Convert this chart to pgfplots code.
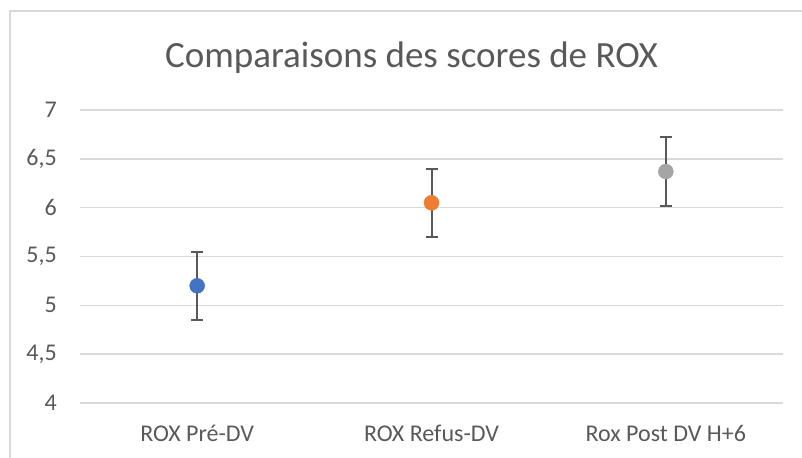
\documentclass[border=0pt]{standalone}
\usepackage{pgfplots}
\pgfplotsset{compat=1.18}
\usepackage{fontspec}
\setmainfont{Carlito}
\definecolor{txt}{HTML}{595959}
\definecolor{gridc}{HTML}{D9D9D9}
\definecolor{c1}{HTML}{4472C4}
\definecolor{c2}{HTML}{ED7D31}
\definecolor{c3}{HTML}{A5A5A5}
\definecolor{eb}{HTML}{595959}
\begin{document}
\begin{tikzpicture}[x=1bp,y=1bp]
\useasboundingbox (0,0) rectangle (802,458);
\draw[gridc, line width=1.5bp] (10,0) -- (10,447) -- (802,447);
\node[anchor=base, text=txt, inner sep=0pt, font=\fontsize{37bp}{44bp}\selectfont] at (411.5,390) {Comparaisons des scores de ROX};
\begin{axis}[
  at={(80bp,55bp)}, anchor=south west,
  scale only axis, width=703bp, height=293bp,
  xmin=-0.5, xmax=2.5, ymin=4, ymax=7,
  ytick={4,4.5,5,5.5,6,6.5,7},
  xtick={0,1,2},
  xticklabels={ROX Pré-DV, ROX Refus-DV, Rox Post DV H+6},
  /pgf/number format/assume math mode=true,
  /pgf/number format/use comma,
  /pgf/number format/1000 sep={},
  xmajorgrids=false, ymajorgrids=true,
  y grid style={draw=gridc, line width=1.5bp},
  axis line style={draw=none}, tick style={draw=none},
  major tick length=0pt,
  yticklabel style={anchor=east, inner sep=0pt, xshift=-23bp, text=txt, font=\fontsize{24bp}{28bp}\selectfont},
  xticklabel style={anchor=base, inner sep=0pt, yshift=-39bp, text=txt, font=\fontsize{24bp}{28bp}\selectfont},
  clip=false,
]
% error bars
\addplot[eb, line width=2bp, no marks, draw=none,
  error bars/.cd, y dir=both, y explicit,
  error bar style={eb, line width=2bp},
  error mark options={eb, rotate=90, mark size=6bp, line width=2bp}]
  coordinates {(0,5.2) +- (0,0.35) (1,6.05) +- (0,0.35) (2,6.37) +- (0,0.35)};
\addplot[only marks, mark=*, mark size=7.5bp, mark options={fill=c1, draw=c1}] coordinates {(0,5.2)};
\addplot[only marks, mark=*, mark size=7.5bp, mark options={fill=c2, draw=c2}] coordinates {(1,6.05)};
\addplot[only marks, mark=*, mark size=7.5bp, mark options={fill=c3, draw=c3}] coordinates {(2,6.37)};
\end{axis}
\end{tikzpicture}
\end{document}
